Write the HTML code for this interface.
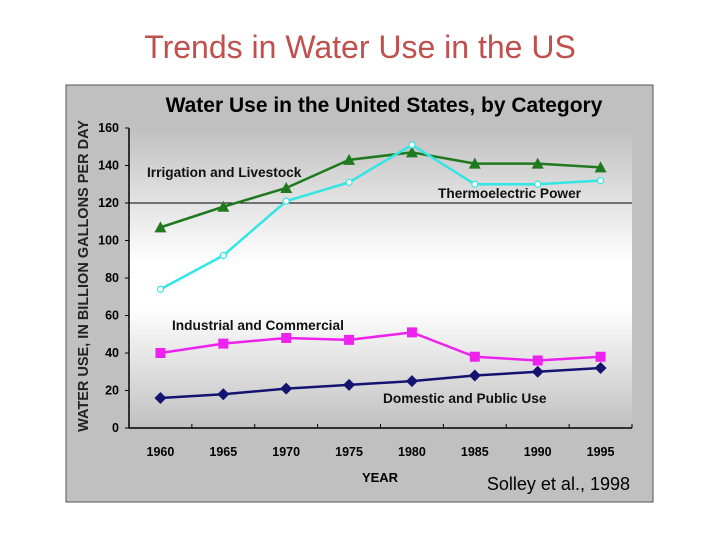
<!DOCTYPE html>
<html><head><meta charset="utf-8"><style>
body{margin:0;width:720px;height:540px;background:#fff;overflow:hidden;font-family:"Liberation Sans",sans-serif}
</style></head><body>
<div style="position:absolute;left:0;width:720px;top:29px;text-align:center;font-size:32px;color:#c0504d">Trends in Water Use in the US</div>
<svg id="c" width="720" height="540" style="position:absolute;left:0;top:0" xmlns="http://www.w3.org/2000/svg">
<defs><linearGradient id="g" x1="0" y1="0" x2="0" y2="1">
<stop offset="0" stop-color="#c0c0c0"/><stop offset="0.45" stop-color="#ffffff"/><stop offset="0.6" stop-color="#ffffff"/><stop offset="1" stop-color="#c0c0c0"/></linearGradient></defs>
<rect x="66" y="85" width="587" height="417" fill="#c0c0c0" stroke="#555" stroke-width="1"/>
<rect x="129" y="128" width="503" height="300" fill="url(#g)"/>
<text x="384" y="112" text-anchor="middle" font-size="21" font-weight="bold">Water Use in the United States, by Category</text>
<text transform="translate(88,276) rotate(-90)" text-anchor="middle" font-size="14.5" font-weight="bold" fill="#222">WATER USE, IN BILLION GALLONS PER DAY</text>
<text x="380" y="482" text-anchor="middle" font-size="13" font-weight="bold">YEAR</text>
<text x="630" y="490" text-anchor="end" font-size="18">Solley et al., 1998</text>
<g id="marks"></g>
</svg>
<script>
const years=["1960","1965","1970","1975","1980","1985","1990","1995"];
const yTicks=[0,20,40,60,80,100,120,140,160];
const irrigation=[107,118,128,143,147,141,141,139];
const thermo=[74,92,121,131,151,130,130,132];
const industrial=[40,45,48,47,51,38,36,38];
const domestic=[16,18,21,23,25,28,30,32];
const X0=129,X1=632,Y0=428,Y1=128;
const xs=i=>X0+(i+0.5)*(X1-X0)/years.length;
const ys=v=>Y0-(v/160)*(Y0-Y1);
const NS="http://www.w3.org/2000/svg";
const g=document.getElementById('marks');
function mk(t,a){const e=document.createElementNS(NS,t);for(const k in a)e.setAttribute(k,a[k]);g.appendChild(e);return e;}
let e=mk('line',{x1:X0,y1:ys(120),x2:X1,y2:ys(120),stroke:'#000','stroke-width':1});


e=mk('line',{x1:X0,y1:Y1,x2:X0,y2:Y0,stroke:'#000','stroke-width':1.5});


e=mk('line',{x1:X0,y1:Y0,x2:X1,y2:Y0,stroke:'#000','stroke-width':1.5});


yTicks.forEach(v=>{
 const t=mk('line',{x1:X0-4,y1:ys(v),x2:X0,y2:ys(v),stroke:'#000'});
 
 
 const l=mk('text',{x:119,y:ys(v)+4,'text-anchor':'end','font-size':12.5,'font-weight':'bold'});
 l.textContent=v;
 
 
});
for(let i=0;i<=years.length;i++){
 const x=X0+i*(X1-X0)/years.length;
 const t=mk('line',{x1:x,y1:Y0,x2:x,y2:Y0-4,stroke:'#000'});
 
 
}
years.forEach((y,i)=>{
 const l=mk('text',{x:xs(i),y:456,'text-anchor':'middle','font-size':12.5,'font-weight':'bold'});
 l.textContent=y;
 
 
});
function series(data,color,marker,name){
 const pl=mk('polyline',{points:data.map((v,i)=>xs(i)+','+ys(v)).join(' '),fill:'none',stroke:color,'stroke-width':2.5});
 
 
 data.forEach((v,i)=>{
  const x=xs(i),y=ys(v);let m;
  if(marker=='tri')m=mk('polygon',{points:`${x},${y-6} ${x-6},${y+5} ${x+6},${y+5}`,fill:color});
  else if(marker=='sq')m=mk('rect',{x:x-5,y:y-5,width:10,height:10,fill:color});
  else if(marker=='dia')m=mk('polygon',{points:`${x},${y-6} ${x+6},${y} ${x},${y+6} ${x-6},${y}`,fill:color});
  else m=mk('circle',{cx:x,cy:y,r:3,fill:'#fff',stroke:color,'stroke-width':1.2});
  
  
 });
}
series(irrigation,'#1f7a1f','tri','irrigation');
series(thermo,'#33e5e5','circ','thermoelectric');
series(industrial,'#ee22ee','sq','industrial');
series(domestic,'#141470','dia','domestic');
[["Irrigation and Livestock",147,177,'irrigation-label'],["Thermoelectric Power",438,198,'thermoelectric-label'],["Industrial and Commercial",172,330,'industrial-label'],["Domestic and Public Use",383,403,'domestic-label']].forEach(a=>{
 const l=mk('text',{x:a[1],y:a[2],'font-size':13.7,'font-weight':'bold',fill:'#111'});
 l.textContent=a[0];
 
 
});
</script>
</body></html>
